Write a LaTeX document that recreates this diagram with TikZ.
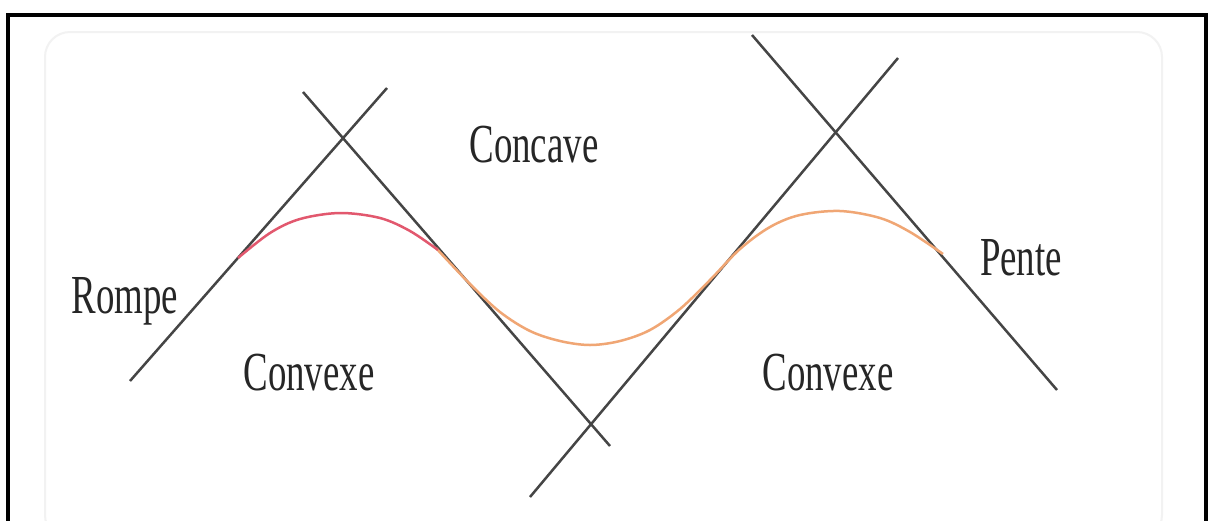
\documentclass[tikz,border=0pt]{standalone}
\usepackage{fontspec}
\setmainfont{Liberation Serif}
\definecolor{linegray}{HTML}{454545}
\definecolor{curvered}{HTML}{E2586E}
\definecolor{curveorange}{HTML}{F0A674}
\definecolor{framegray}{HTML}{F2F2F2}
\begin{document}
\begin{tikzpicture}[x=1pt,y=-1pt,
  tangent/.style={draw=linegray,line width=2.5pt},
  lbl/.style={font=\fontsize{55}{60}\selectfont,text=black!85,xscale=0.67,anchor=base,inner sep=0pt},
  curve/.style={line width=2.5pt}]
\useasboundingbox (0,0) rectangle (1208,520);
\fill[white] (0,0) rectangle (1208,520);
% faint inner rounded frame
\draw[framegray,line width=2pt,rounded corners=25pt] (45,32) rectangle (1162,540);
% outer black frame
\draw[black,line width=4pt] (7.5,522) -- (7.5,14.5) -- (1206,14.5) -- (1206,522);
% tangent lines
\coordinate (a1) at (130,381);
\coordinate (a2) at (387,88);
\coordinate (b1) at (303,92);
\coordinate (b2) at (610,446);
\coordinate (c1) at (530,497);
\coordinate (c2) at (898,58);
\coordinate (d1) at (752,35);
\coordinate (d2) at (1057,390);
\draw[tangent] (a1) -- (a2);
\draw[tangent] (b1) -- (b2);
\draw[tangent] (c1) -- (c2);
\draw[tangent] (d1) -- (d2);
% curve
\draw[curve,curveorange] plot[smooth,tension=0.55] coordinates {(436,248) (470,284) (500,312) (530,331) (560,341) (590,345) (620,341) (650,330) (680,309) (710,280) (740,249) (770,227) (800,215) (840,211) (880,218) (910,232) (943,254)};
\draw[curve,curvered] plot[smooth,tension=0.55] coordinates {(238,258) (270,233) (300,219) (340,213) (380,218) (410,231) (438,250)};
% labels
\node[lbl] (concave) at (534,162) {Concave};
\node[lbl] (rompe) at (125,313) {Rompe};
\node[lbl] (convexe1) at (309,390) {Convexe};
\node[lbl] (convexe2) at (828,390) {Convexe};
\node[lbl] (pente) at (1021,275) {Pente};
\end{tikzpicture}
\end{document}
